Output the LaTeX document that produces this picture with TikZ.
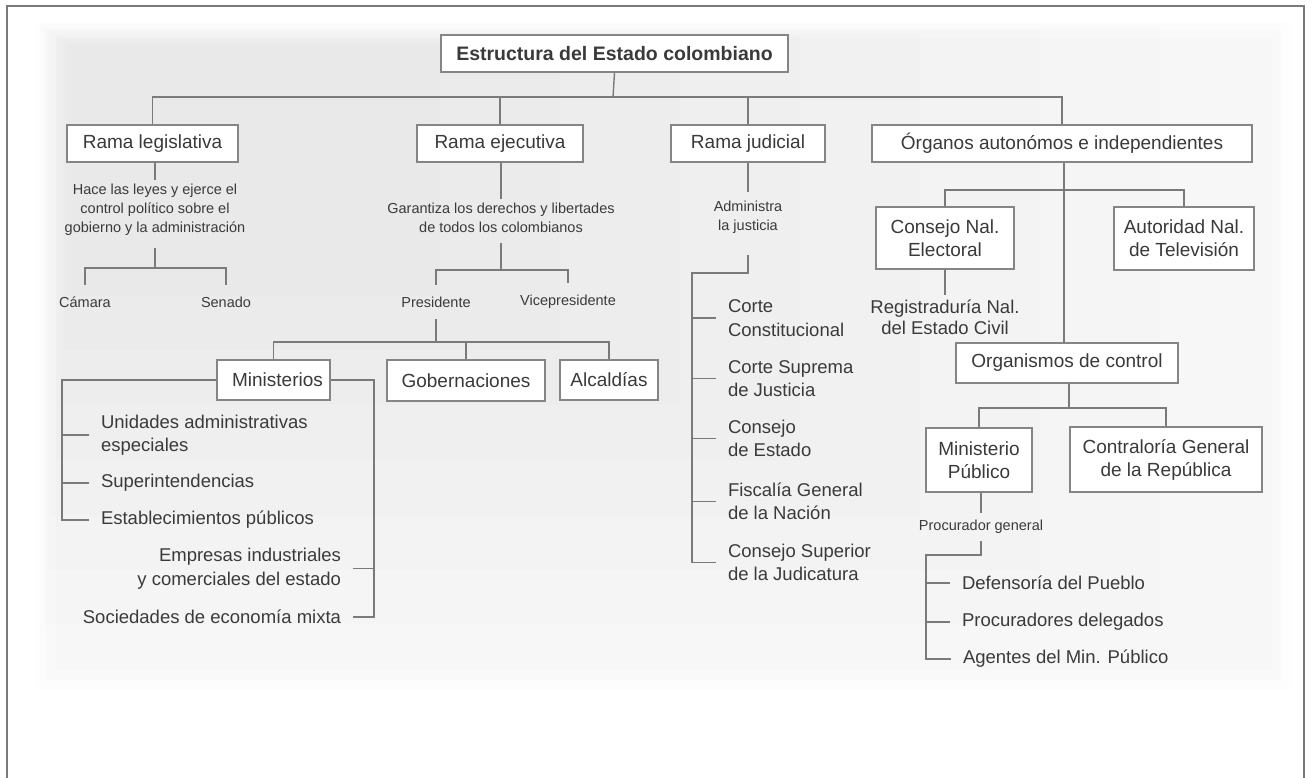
\documentclass[tikz,border=0pt]{standalone}
\usepackage{fontspec}
\setmainfont{Liberation Sans}
\definecolor{linec}{HTML}{7A7A7A}
\definecolor{boxc}{HTML}{858585}
\definecolor{txtc}{HTML}{3A3A3A}
\definecolor{framec}{HTML}{7A7A7A}
\begin{document}
\begin{tikzpicture}[x=1pt,y=-1pt,
  lc/.style={draw=linec, line width=1.4pt},
  bx/.style={draw=boxc, line width=1.4pt, fill=white, text=txtc, inner sep=0pt, align=center, font=\fontsize{19}{23}\selectfont},
  lab/.style={text=txtc, inner sep=0pt, outer sep=12pt, font=\fontsize{18.5}{23.5}\selectfont},
  sml/.style={text=txtc, inner sep=0pt, outer sep=4pt, align=center, font=\fontsize{14.5}{19}\selectfont},
  nm/.style={sml, outer sep=12pt}
]
\useasboundingbox (0,0) rectangle (1312,778);
% soft grey background
\foreach \i in {0,...,2}{
  \fill[black, fill opacity=0.00785] (36+10*\i, 22+8*\i) rectangle (1292-10*\i, 690-10*\i);
}
\foreach \i in {0,...,7}{
  \fill[black, fill opacity=0.00785] (40+4*\i, 24+3*\i) rectangle (1280-120*\i, 680-55*\i);
}
% frame
\draw[framec, line width=1.5pt] (7,778) -- (7,6) -- (1304,6) -- (1304,778);

% ---- boxes
\node[bx, font=\bfseries\fontsize{19.5}{23}\selectfont, minimum width=347pt, minimum height=37pt] (title) at (614.5,53.5) {Estructura del Estado colombiano};
\node[bx, minimum width=171pt, minimum height=37pt] (legis) at (152.5,143.5) {Rama legislativa};
\node[bx, minimum width=166pt, minimum height=37pt] (ejec) at (500,143.5) {Rama ejecutiva};
\node[bx, minimum width=154pt, minimum height=37pt] (judic) at (748,143.5) {Rama judicial};
\node[bx, minimum width=380pt, minimum height=37pt] (organos) at (1062,143.5) {Órganos autonómos e independientes};
\node[bx, minimum width=138pt, minimum height=62pt] (consejo) at (945,238) {Consejo Nal.\\Electoral};
\node[bx, minimum width=140pt, minimum height=63pt] (autor) at (1184,238.5) {Autoridad Nal.\\de Televisión};
\node[bx, minimum width=222pt, minimum height=40pt] (orgctl) at (1067,363) {Organismos de control};
\node[bx, minimum width=106pt, minimum height=64pt] (minpub) at (979,460) {Ministerio\\Público};
\node[bx, minimum width=192pt, minimum height=65pt] (contral) at (1166,459.5) {Contraloría General\\de la República};
\node[bx, minimum width=113pt, minimum height=40pt] (minis) at (273.5,380) {\hspace*{8pt}Ministerios};
\node[bx, minimum width=158pt, minimum height=41pt] (gobern) at (466,380.5) {Gobernaciones};
\node[bx, minimum width=98pt, minimum height=40pt] (alcald) at (609,380) {Alcaldías};

% ---- small labels
\node[sml] (legdesc) at (155,210) {Hace las leyes y ejerce el\\control político sobre el\\gobierno y la administración};
\node[nm] (camara) at (85,302) {Cámara};
\node[nm] (senado) at (226,302) {Senado};
\node[sml] (ejdesc) at (501,217.5) {Garantiza los derechos y libertades\\de todos los colombianos};
\node[nm] (pres) at (436,302) {Presidente};
\node[nm] (vice) at (568,302) {Vicepresidente};
\node[sml, outer sep=9pt] (jdesc) at (748,217.5) {Administra\\la justicia};
\node[sml, outer sep=7pt] (procur) at (981,527) {Procurador general};
\node[lab, align=center, outer sep=5pt, font=\fontsize{18.5}{21}\selectfont] (regist) at (945,317) {Registraduría Nal.\\del Estado Civil};

% ---- list labels
\node[lab, anchor=west, align=left] (unid) at (89,435) {Unidades administrativas\\especiales};
\node[lab, anchor=west] (super) at (89,483) {Superintendencias};
\node[lab, anchor=west] (estab) at (89,520) {Establecimientos públicos};
\node[lab, anchor=east, align=right] (empres) at (353,568.5) {Empresas industriales\\y comerciales del estado};
\node[lab, anchor=east] (socied) at (353,617) {Sociedades de economía mixta};

\node[lab, anchor=west, align=left] (cconst) at (716,318) {Corte\\Constitucional};
\node[lab, anchor=west, align=left] (csupr) at (716,378.5) {Corte Suprema\\de Justicia};
\node[lab, anchor=west, align=left] (cest) at (716,438.5) {Consejo\\de Estado};
\node[lab, anchor=west, align=left] (fisc) at (716,501.5) {Fiscalía General\\de la Nación};
\node[lab, anchor=west, align=left] (csup) at (716,562.5) {Consejo Superior\\de la Judicatura};

\node[lab, anchor=west] (defens) at (950,583) {Defensoría del Pueblo};
\node[lab, anchor=west] (procdel) at (950,622) {Procuradores delegados};
\node[lab, anchor=west] (agentes) at (951,659) {Agentes del Min. Público};

% ---- coordinates
\coordinate (bus1) at (613,97);
\coordinate (legbus) at (155,268);
\coordinate (ejbus) at (501,270);
\coordinate (presbus) at (440,342);
\coordinate (mL) at (62,380);
\coordinate (mR) at (374,380);
\coordinate (jL) at (692,273);
\coordinate (obus) at (1064,190);
\coordinate (cbus) at (1069,408);
\coordinate (pL) at (926,555);

% ---- connectors
\draw[lc] (title.south) -- (bus1);
\draw[lc] (legis.north) |- (organos.north |- bus1) -- (organos.north);
\draw[lc] (ejec.north) -- (ejec.north |- bus1);
\draw[lc] (judic.north) -- (judic.north |- bus1);

% legislative
\draw[lc] (legdesc.north |- legis.south) -- (legdesc.north);
\draw[lc, shorten <=8pt] (legdesc.south) -- (legdesc.south |- legbus);
\draw[lc] (camara.north) |- (legbus) -| (senado.north);

% executive
\draw[lc] (ejdesc.north |- ejec.south) -- (ejdesc.north);
\draw[lc, shorten <=7pt] (ejdesc.south) -- (ejdesc.south |- ejbus);
\draw[lc] (pres.north) |- (ejbus) -| (vice.north);
\draw[lc] (pres.south) -- (pres.south |- presbus);
\draw[lc] (minis.north) |- (presbus) -| (alcald.north);
\draw[lc] (gobern.north) -- (gobern.north |- presbus);

% ministerios brackets
\draw[lc] (minis.west) -- (mL) |- (estab.west);
\draw[lc] (mL |- unid.west) -- (unid.west);
\draw[lc] (mL |- super.west) -- (super.west);
\draw[lc] (minis.east) -- (mR) |- (socied.east);
\draw[lc] (mR |- empres.east) -- (empres.east);

% judicial
\draw[lc] (judic.south) -- (jdesc.north);
\draw[lc, shorten <=12pt] (jdesc.south) |- (jL) |- (csup.west);
\draw[lc] (jL |- cconst.west) -- (cconst.west);
\draw[lc] (jL |- csupr.west) -- (csupr.west);
\draw[lc] (jL |- cest.west) -- (cest.west);
\draw[lc] (jL |- fisc.west) -- (fisc.west);

% organos
\draw[lc] (organos.south -| obus) -- (orgctl.north -| obus);
\draw[lc] (consejo.north) |- (obus) -| (autor.north);
\draw[lc] (consejo.south) -- (regist.north);
\draw[lc] (orgctl.south -| cbus) -- (cbus);
\draw[lc] (minpub.north) |- (cbus) -| (contral.north);
\draw[lc] (procur.north |- minpub.south) -- (procur.north);
\draw[lc] (procur.south) |- (pL) |- (agentes.west);
\draw[lc] (pL |- defens.west) -- (defens.west);
\draw[lc] (pL |- procdel.west) -- (procdel.west);
\end{tikzpicture}
\end{document}
